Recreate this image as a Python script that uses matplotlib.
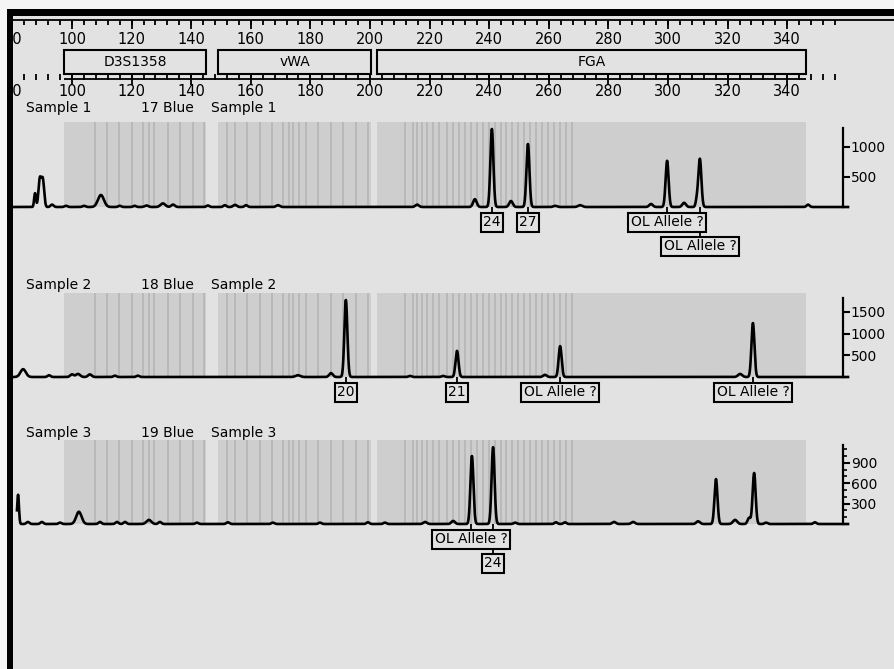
import numpy as np
import matplotlib
matplotlib.use("Agg")
from matplotlib import pyplot as plt
from matplotlib.patches import Rectangle

# ---- data ----
locusNames = ["D3S1358", "vWA", "FGA"]
locusStart = [97.3, 149.0, 202.3]
locusEnd = [145.0, 200.5, 346.3]

binLinesD3 = [107.7, 111.7, 115.8, 120.1, 123.8, 125.8, 127.5, 132.2, 136.2, 140.6, 144.3]
binLinesVWA = [152.0, 154.7, 158.7, 163.1, 167.1, 170.8, 172.8, 174.2, 176.2, 178.5,
               182.6, 186.9, 190.9, 195.3, 199.3]
binLinesFGA = [211.7, 214.4, 215.8, 217.4, 219.1, 221.1, 223.2, 225.8, 227.8, 229.8,
               231.8, 233.8, 235.8, 237.8, 239.8, 241.8, 243.8, 245.8, 247.8, 249.8,
               251.8, 253.8, 255.8, 257.8, 259.8, 261.8, 263.8, 265.8, 267.8]

sampleNames = ["Sample 1", "Sample 2", "Sample 3"]
laneNames = ["17 Blue", "18 Blue", "19 Blue"]
rfuTicks = [[500, 1000], [500, 1000, 1500], [300, 600, 900]]

# peaks: size (bp), height (RFU), width (bp)
peaks1Bp = [87.6, 89.2, 90.2, 93.3, 98.0, 104.0, 109.7, 116.0, 121.0, 125.0, 130.5, 133.9,
            145.6, 151.3, 154.7, 158.4, 169.1, 215.8, 235.2, 240.9, 247.3, 253.0, 262.1,
            270.5, 294.3, 299.7, 305.4, 309.7, 310.7, 347.0]
peaks1Rfu = [230, 460, 450, 40, 20, 20, 200, 20, 20, 25, 60, 40,
             25, 30, 35, 30, 30, 40, 130, 1300, 100, 1050, 20,
             30, 50, 770, 70, 120, 800, 40]
peaks1Wid = [0.3, 0.45, 0.45, 0.5, 0.5, 0.5, 1.0, 0.5, 0.5, 0.6, 0.8, 0.6,
             0.5, 0.5, 0.6, 0.5, 0.6, 0.6, 0.6, 0.5, 0.6, 0.5, 0.6,
             0.7, 0.6, 0.5, 0.6, 0.4, 0.5, 0.5]

peaks2Bp = [83.6, 92.3, 100.0, 102.0, 106.0, 114.4, 122.1, 175.8, 186.9, 191.9, 213.4,
            224.5, 229.2, 258.7, 263.8, 324.2, 328.5]
peaks2Rfu = [180, 40, 60, 70, 60, 30, 30, 40, 90, 1770, 25, 25, 600, 50, 710, 70, 1240]
peaks2Wid = [0.9, 0.5, 0.6, 0.7, 0.6, 0.5, 0.5, 0.8, 0.6, 0.5, 0.5, 0.5, 0.5, 0.6, 0.5,
             0.7, 0.5]

peaks3Bp = [81.9, 85.2, 89.9, 96.0, 102.3, 109.4, 115.1, 117.8, 125.8, 129.5, 141.9, 152.3,
            167.4, 183.2, 199.3, 205.0, 218.5, 227.9, 234.2, 241.3, 248.7, 262.4, 265.4,
            281.9, 288.3, 310.1, 316.1, 322.5, 327.2, 328.9, 332.9, 349.3]
peaks3Rfu = [430, 30, 30, 20, 180, 30, 30, 30, 60, 30, 20, 25,
             20, 20, 25, 20, 30, 45, 1000, 1130, 20, 25, 25,
             30, 30, 40, 660, 60, 90, 750, 20, 25]
peaks3Wid = [0.3, 0.5, 0.5, 0.5, 0.9, 0.5, 0.5, 0.5, 0.8, 0.5, 0.5, 0.5,
             0.5, 0.5, 0.5, 0.5, 0.6, 0.6, 0.5, 0.5, 0.5, 0.5, 0.5,
             0.6, 0.6, 0.6, 0.5, 0.7, 0.5, 0.5, 0.5, 0.5]

alleles1Text = ["24", "27", "OL Allele ?", "OL Allele ?"]
alleles1Bp = [240.9, 253.0, 299.7, 310.7]
alleles1Row = [0, 0, 0, 1]
alleles2Text = ["20", "21", "OL Allele ?", "OL Allele ?"]
alleles2Bp = [191.9, 229.2, 263.8, 328.5]
alleles2Row = [0, 0, 0, 0]
alleles3Text = ["OL Allele ?", "24"]
alleles3Bp = [234.0, 241.3]
alleles3Row = [0, 1]

# ---- layout (pixels) ----
W, H = 894, 669
PX_PER_BP = 2.98
X_AT_100 = 72
BP_LEFT = 100 - X_AT_100 / PX_PER_BP
BP_RIGHT = 100 + (W - X_AT_100) / PX_PER_BP

def bpOf(px):
    return 100 + (px - X_AT_100) / PX_PER_BP

BG = "#e2e2e2"
BIN = "#cecece"
STRIPE = "#b9b9b9"

baselinePx = [207, 377, 524]
pxPerRfu = [0.06, 0.0435, 0.068]
grayTopPx = [122, 293, 440]
axisTopPx = [128, 298, 445]
titleBasePx = [112, 289, 437]

plt.rcParams['font.family'] = ['DejaVu Sans']

fig = plt.figure(figsize=(W / 100, H / 100), dpi=100)
fig.patch.set_facecolor(BG)

# axes in bp (x) and pixels (y) for rulers and labels
axb = fig.add_axes([0, 0, 1, 1])
axb.set_xlim(BP_LEFT, BP_RIGHT)
axb.set_ylim(H, 0)
axb.axis("off")

# top ruler
ticks = np.arange(80, 357, 4)
majors = np.arange(80, 341, 20)
axb.hlines(20, bpOf(10), BP_RIGHT, color="black", lw=1.3)
axb.vlines(ticks, 20, 25, color="black", lw=1.3)
axb.vlines(majors, 20, 29, color="black", lw=1.3)
for m in majors:
    axb.text(m, 40, str(m), ha="center", va="center", fontsize=10.5)

# locus boxes
for name, lo, hi in zip(locusNames, locusStart, locusEnd):
    axb.add_patch(Rectangle((lo, 50), hi - lo, 24, facecolor=BG, edgecolor="black", lw=1.5))
    axb.text((lo + hi) / 2, 62, name, ha="center", va="center", fontsize=10)

# lower ruler
axb.hlines(79, locusStart[0], locusEnd[-1], color="black", lw=1.3)
axb.vlines(ticks[ticks >= 84], 74, 80, color="black", lw=1.3)
axb.vlines(majors[majors >= 100], 74, 85, color="black", lw=1.3)
for m in majors:
    axb.text(m, 91, str(m), ha="center", va="center", fontsize=10.5)

# sample panels
panels = [
    (peaks1Bp, peaks1Rfu, peaks1Wid, alleles1Text, alleles1Bp, alleles1Row, 80.5),
    (peaks2Bp, peaks2Rfu, peaks2Wid, alleles2Text, alleles2Bp, alleles2Row, 80.5),
    (peaks3Bp, peaks3Rfu, peaks3Wid, alleles3Text, alleles3Bp, alleles3Row, 81.5),
]
binLines = [binLinesD3, binLinesVWA, binLinesFGA]
x = np.linspace(BP_LEFT, bpOf(848), 6000)

for i, (pBp, pRfu, pWid, aText, aBp, aRow, start) in enumerate(panels):
    b = baselinePx[i]
    s = pxPerRfu[i]
    ax = fig.add_axes([0, 0, 1, 1])
    ax.patch.set_visible(False)
    ax.set_xlim(BP_LEFT, BP_RIGHT)
    ax.set_ylim((b - H) / s, b / s)
    grayTop = (b - grayTopPx[i]) / s

    for lo, hi, lines in zip(locusStart, locusEnd, binLines):
        ax.fill_between([lo, hi], 0, grayTop, color=BIN, lw=0, zorder=1)
        ax.vlines(lines, 0, grayTop, color=STRIPE, lw=1.4, zorder=1)

    xs = x[x >= start]
    y = np.zeros_like(xs)
    for pb, pr, pw in zip(pBp, pRfu, pWid):
        y += pr * np.exp(-0.5 * ((xs - pb) / pw) ** 2)
    ax.plot(xs, y, color="black", lw=1.9, zorder=3, solid_joinstyle="round")

    for k in ["left", "top", "bottom"]:
        ax.spines[k].set_visible(False)
    ax.spines["right"].set_position(("data", bpOf(843)))
    ax.spines["right"].set_bounds(0, (b - axisTopPx[i]) / s)
    ax.spines["right"].set_linewidth(1.6)
    ax.set_xticks([])
    ax.yaxis.set_ticks_position("right")
    ax.set_yticks(rfuTicks[i])
    if i == 2:
        ax.set_yticks(np.arange(100, 1200, 100), minor=True)
        ax.tick_params(axis="y", which="minor", direction="out", length=3, width=1.2)
    ax.tick_params(axis="y", which="major", direction="out", length=5, width=1.5,
                   pad=0.5, labelsize=10)

    # titles
    axb.text(bpOf(26), titleBasePx[i], sampleNames[i], fontsize=10, va="baseline")
    axb.text(bpOf(141), titleBasePx[i], laneNames[i], fontsize=10, va="baseline")
    axb.text(bpOf(211), titleBasePx[i], sampleNames[i], fontsize=10, va="baseline")

    # allele call boxes
    for t, ab, r in zip(aText, aBp, aRow):
        yc = b + 15 + r * 24
        axb.vlines(ab, b, yc, color="black", lw=1.3, zorder=2)
        axb.text(ab, yc, t, ha="center", va="center", fontsize=10, zorder=4,
                 bbox=dict(boxstyle="square,pad=0.18", facecolor=BG,
                           edgecolor="black", lw=1.5))

# screen frame
axp = fig.add_axes([0, 0, 1, 1])
axp.patch.set_visible(False)
axp.set_xlim(0, W)
axp.set_ylim(H, 0)
axp.axis("off")
axp.add_patch(Rectangle((0, 0), W, 9, facecolor="#f5f5f5", lw=0))
axp.add_patch(Rectangle((0, 0), 7, H, facecolor="#f5f5f5", lw=0))
axp.add_patch(Rectangle((7, 9), W - 7, 7, facecolor="black", lw=0))
axp.add_patch(Rectangle((7, 9), 6, H - 9, facecolor="black", lw=0))

fig.savefig("out.png", dpi=100, facecolor=fig.get_facecolor())
